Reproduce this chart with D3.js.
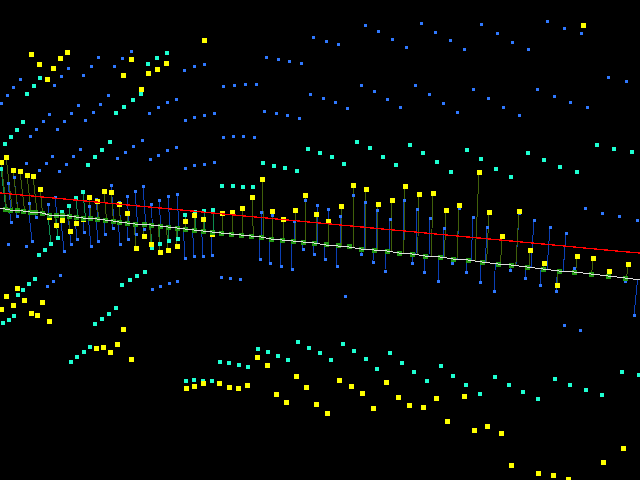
<!DOCTYPE html>
<html>
<head>
<meta charset="utf-8">
<script src="https://cdn.jsdelivr.net/npm/d3@7"></script>
<style>
  html, body { margin: 0; padding: 0; background: #000; overflow: hidden; }
  svg { display: block; }
</style>
</head>
<body>
<div class="chart"></div>
<script>
// values, in picture units
const baseX = [0,5,10,17,23,30,35,42,49,56,62,69,76,83,90,97,105,113,119,127,135,144,151,160,168,177,185,194,203,212,221,231,241,251,261,271,282,293,303,314,326,338,349,361,374,387,399,412,425,440,453,468,482,498,511,527,543,559,574,591,608,625,640];
const baseY = [208,209,210,210,211,212,212,213,215,215,215,216,217,218,218,219,220,221,222,223,224,224,225,226,227,228,229,230,231,232,233,234,235,236,237,239,240,241,242,243,245,246,247,249,250,251,253,254,256,257,259,260,262,264,265,267,269,271,272,274,276,278,280];
const redY = [193,193.5,194,194.6,195.2,195.8,196.3,197,197.6,198.3,198.8,199.5,200.1,200.8,201.5,202.1,202.9,203.6,204.2,204.9,205.7,206.5,207.2,208,208.8,209.6,210.4,211.2,212.1,212.9,213.8,214.7,215.7,216.6,217.5,218.5,219.5,220.5,221.5,222.5,223.6,224.8,225.8,226.9,228.2,229.4,230.5,231.7,233,234.4,235.6,237,238.3,239.8,241,242.5,244,245.5,247,248.6,250.2,251.8,253];

const blueFree = [[131,51],[98,57],[122,58],[68,68],[91,66],[114,66],[184,70],[194,66],[204,64],[20,79],[61,76],[83,75],[13,87],[54,85],[7,95],[108,95],[1,103],[78,105],[100,104],[176,99],[167,102],[158,107],[149,113],[49,114],[71,113],[93,112],[43,121],[64,121],[85,120],[36,129],[57,129],[30,136],[185,120],[194,117],[204,115],[142,140],[133,146],[125,152],[117,158],[176,147],[167,150],[158,155],[150,159],[80,149],[52,156],[73,156],[26,163],[46,163],[66,164],[39,170],[59,171],[185,168],[194,165],[204,164],[214,162],[214,113],
  [365,25],[421,23],[378,31],[392,39],[406,47],[313,37],[326,41],[338,44],[266,57],[278,59],[289,61],[301,63],[223,86],[234,85],[245,84],[256,84],[361,85],[374,91],[387,99],[400,107],[415,85],[310,94],[323,98],[335,102],[347,108],[264,111],[276,113],[287,115],[299,118],[223,137],[233,136],[243,136],[254,137],
  [435,32],[450,40],[464,49],[481,24],[497,33],[512,42],[528,49],[547,21],[564,28],[581,33],[608,77],[626,81],[429,94],[443,103],[457,112],[473,89],[488,98],[503,107],[519,115],[537,89],[554,96],[570,102],[587,107],[585,208],[602,213],[619,216],[637,220],[564,325],[580,330],[345,296],
  [8,245],[26,247],[60,275],[53,281],[47,286],[177,281],[169,283],[160,286],[152,289],[221,277],[230,278],[240,279]];

const blueStemmed = [[8,183],[14,177],[29,203],[48,204],[55,197],[89,206],[96,199],[111,185],[119,202],[127,196],[135,191],[143,186],[151,204],[159,200],[168,196],[177,194],[136,234],[144,229],
  [11,222],[17,216],[36,217],[32,241],[64,251],[71,245],[77,239],[84,232],[91,247],[98,241],[105,234],[113,228],[120,244],[128,239],[185,258],[194,256],[203,256],[212,255],
  [272,215],[261,212],[305,200],[317,205],[328,209],[340,216],[353,195],[365,202],[377,210],[390,219],[404,200],[417,209],[294,221],
  [260,259],[270,263],[281,266],[292,269],[303,249],[314,254],[325,259],[337,266],[361,254],[373,262],[385,271],[412,263],[424,272],
  [430,218],[444,228],[459,208],[473,217],[487,227],[519,213],[534,220],[550,227],[566,233],[574,268],
  [438,281],[452,263],[466,272],[480,282],[494,291],[510,270],[525,278],[540,285],[556,291],[625,281],[634,315]];

const cyanFree = [[167,53],[157,58],[148,64],[141,94],[133,100],[124,107],[116,113],[40,78],[34,86],[27,94],[23,122],[17,130],[11,137],[5,144],[110,142],[102,150],[95,157],[88,165],
  [308,149],[320,153],[332,157],[357,142],[370,148],[383,157],[410,145],[423,153],[263,163],[274,166],[285,168],[297,171],[344,164],[396,165],[222,186],[233,186],[243,187],[253,187],
  [467,150],[481,159],[528,153],[544,160],[597,145],[614,149],[632,152],[437,162],[451,172],[496,169],[511,177],[560,167],[577,172],
  [45,250],[39,255],[35,279],[29,284],[23,290],[18,295],[14,316],[9,320],[3,323],[145,272],[137,276],[130,280],[122,285],[116,308],[109,314],[102,319],[95,324],[90,347],[84,352],[77,357],[71,362],
  [186,381],[194,380],[203,381],[212,381],[220,362],[229,363],[239,365],[248,367],[258,349],[268,352],[278,356],[288,360],[298,342],[309,348],[320,353],[331,360],[343,344],[354,351],[366,359],[377,369],[390,353],[402,363],
  [414,372],[441,366],[427,381],[453,376],[466,385],[480,394],[495,377],[509,385],[523,392],[538,399],[555,379],[570,385],[586,390],[602,395],[622,372],[639,375]];

const cyanStemmed = [[1,169],[62,212],[69,206],[76,198],[83,192],[51,244],[58,238],[152,248],[160,244],[169,241],[178,239],[185,215],[195,212],[204,211],[213,210]];

const yellowFree = [[204,40],[31,54],[39,64],[67,52],[60,58],[53,68],[47,79],[131,59],[123,75],[148,73],[157,69],[166,63],[141,89],[583,25],
  [17,288],[6,296],[24,300],[13,305],[1,309],[42,302],[31,313],[37,315],[49,321],[123,329],[117,344],[96,348],[103,347],[110,352],[131,359],
  [186,388],[194,386],[203,383],[219,383],[229,387],[238,388],[247,385],[257,357],[267,365],[276,394],[286,402],[296,376],[306,387],[316,404],[327,413],[339,380],[351,386],[362,393],[373,408],[386,382],[398,397],[409,405],
  [423,407],[436,398],[464,396],[447,421],[474,430],[487,426],[501,433],[511,465],[538,473],[553,475],[568,479],[603,462],[623,448]];

const yellowStemmed = [[6,157],[1,162],[13,170],[20,171],[27,175],[33,176],[40,189],[89,197],[104,191],[111,192],[97,201],[119,204],[127,213],[62,220],[76,223],[56,225],[70,231],[49,217],[83,219],[144,236],[136,248],[151,244],[160,252],[168,250],[177,247],[185,221],[194,215],[203,219],[212,234],
  [262,179],[252,197],[242,208],[232,212],[222,213],[272,211],[283,219],[295,210],[305,195],[316,214],[328,221],[341,206],[353,185],[366,189],[378,204],[392,200],[405,186],[419,194],
  [433,193],[446,210],[459,205],[479,172],[489,212],[502,236],[519,211],[530,250],[544,263],[557,285],[577,256],[593,258],[609,271],[628,264]];

const WIDTH = 640, HEIGHT = 480;
// stems lean towards this column, the further from it the more
const uprightX = 353;
const leanPerPixel = 0.00035;

const x = d3.scaleLinear().domain([0, 640]).range([0, WIDTH]);
const y = d3.scaleLinear().domain([0, 480]).range([0, HEIGHT]);

const svg = d3.select(".chart").append("svg")
    .attr("width", WIDTH)
    .attr("height", HEIGHT)
    .style("background", "#000");

const base = baseX.map((bx, i) => [bx, baseY[i]]);
const baseYAt = d3.scaleLinear().domain(baseX).range(baseY);

// where a stem from point p meets the white line
function stemFoot(p) {
    const footY = baseYAt(p[0]);
    const footX = p[0] + (uprightX - p[0]) * leanPerPixel * (footY - p[1]);
    return [footX, baseYAt(footX)];
}

function drawStems(points, color) {
    svg.append("g").selectAll("line")
        .data(points)
        .join("line")
        .attr("x1", (d) => x(d[0]))
        .attr("y1", (d) => y(d[1]))
        .attr("x2", (d) => x(stemFoot(d)[0]))
        .attr("y2", (d) => y(stemFoot(d)[1]))
        .attr("stroke", color)
        .attr("stroke-width", 1)
        .attr("shape-rendering", "crispEdges");
}

function drawSquares(points, size, color) {
    svg.append("g").selectAll("rect")
        .data(points)
        .join("rect")
        .attr("x", (d) => Math.round(x(d[0]) - size / 2))
        .attr("y", (d) => Math.round(y(d[1]) - size / 2))
        .attr("width", size)
        .attr("height", size)
        .attr("fill", color)
        .attr("shape-rendering", "crispEdges");
}

drawStems(cyanStemmed, "#0c8c50");
drawStems(blueStemmed, "#0b3fb4");
drawStems(yellowStemmed, "#40600a");

drawSquares(blueFree.concat(blueStemmed), 3, "#2f78ff");
drawSquares(cyanFree.concat(cyanStemmed), 4, "#1effd2");
drawSquares(yellowFree.concat(yellowStemmed), 5, "#ffff00");
drawSquares(base.slice(1, -1), 5, "#229a14");

const line = d3.line().x((d) => x(d[0])).y((d) => y(d[1]));

svg.append("path")
    .attr("d", line(base))
    .attr("fill", "none")
    .attr("stroke", "#dddddd")
    .attr("stroke-width", 1)
    .attr("shape-rendering", "crispEdges");

svg.append("path")
    .attr("d", line(baseX.map((bx, i) => [bx, redY[i]])))
    .attr("fill", "none")
    .attr("stroke", "#ff0000")
    .attr("stroke-width", 1.3)
    .attr("shape-rendering", "crispEdges");
</script>
</body>
</html>
